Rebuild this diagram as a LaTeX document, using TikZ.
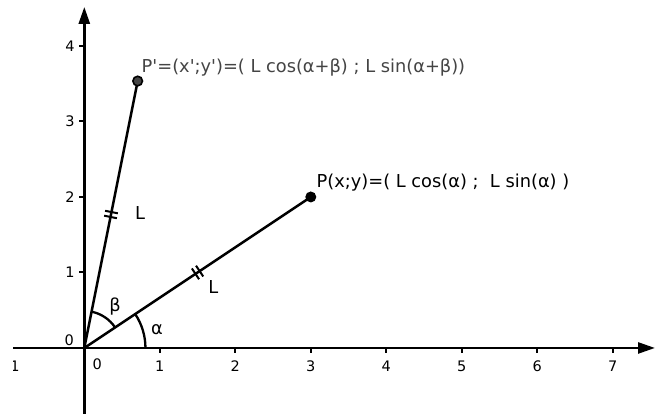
\documentclass[tikz,border=0pt]{standalone}
\usepackage{fontspec}
\setmainfont{DejaVu Sans}[Ligatures=TeXOff]
\usetikzlibrary{arrows.meta,calc}
\definecolor{dg}{HTML}{444444}
\begin{document}
\begin{tikzpicture}[x=75.5pt,y=75.5pt,
 ax/.style={line width=2.6pt,-{Triangle[length=17pt,width=11pt]}},
 tk/.style={line width=2pt},
 lbl/.style={font=\fontsize{14.5}{14.5}\selectfont, inner sep=0pt},
 big/.style={font=\fontsize{17.8}{17.8}\selectfont, inner sep=0pt},
 seg/.style={line width=2.5pt},
 arcst/.style={line width=2.3pt},
 dbl/.style={line width=2pt}]
\useasboundingbox (-1.1166,-0.8742) rectangle (7.559,4.609);
\coordinate (O) at (0,0);
\coordinate (P) at (3,2);
\coordinate (Pp) at (0.7071,3.5355);
\coordinate (xs) at (-0.944,0);
\coordinate (xe) at (7.559,0);
\coordinate (ys) at (0,-0.8742);
\coordinate (ye) at (0,4.517);
% axes
\draw[ax] (xs) -- (xe);
\draw[ax] (ys) -- (ye);
\foreach \i in {1,...,7} \draw[tk] (\i,0) -- (\i,-5.5pt);
\foreach \i in {1,...,4} \draw[tk] (0,\i) -- (-5.5pt,\i);
\foreach \i in {1,...,7} \node[lbl] at (\i,-0.238) {\i};
\node[lbl] at (0.17,-0.21) {0};
\foreach \i in {1,...,4} \node[lbl] at (-0.19,\i) {\i};
\node[lbl] at (-0.2,0.106) {0};
\begin{scope}
\clip (-0.935,-1) rectangle (-0.5,0);
\node[lbl] at (-1,-0.238) {−1};
\end{scope}
% segments
\draw[seg] (O) -- (P);
\draw[seg] (O) -- (Pp);
% angle arcs
\draw[arcst] (0.81,0) arc[start angle=0,end angle=33.69,radius=0.81];
\draw[arcst] (33.69:0.49) arc[start angle=33.69,end angle=78.69,radius=0.49];
\node[big] at (0.963,0.238) {α};
\node[big] at (0.407,0.543) {β};
% double ticks
\begin{scope}[shift={($(O)!0.5!(P)$)},rotate=33.69]
\draw[dbl] (-2.5pt,-6.5pt) -- (-2.5pt,6.5pt) (2.5pt,-6.5pt) -- (2.5pt,6.5pt);
\end{scope}
\begin{scope}[shift={($(O)!0.5!(Pp)$)},rotate=78.69]
\draw[dbl] (-2.5pt,-6.5pt) -- (-2.5pt,6.5pt) (2.5pt,-6.5pt) -- (2.5pt,6.5pt);
\end{scope}
\node[big] at (1.71,0.81) {L};
\node[big] at (0.74,1.79) {L};
% points
\fill[black] (P) circle[radius=5.5pt];
\filldraw[fill=dg,draw=black,line width=1.6pt] (Pp) circle[radius=4.8pt];
\node[big,anchor=base west] at (3.075,2.119) {P(x;y)=( L cos(α) ;~ L sin(α) )};
\node[big,anchor=base west,text=dg] at (0.758,3.642) {P'=(x';y')=( L cos(α+β) ; L sin(α+β))};
\end{tikzpicture}
\end{document}
